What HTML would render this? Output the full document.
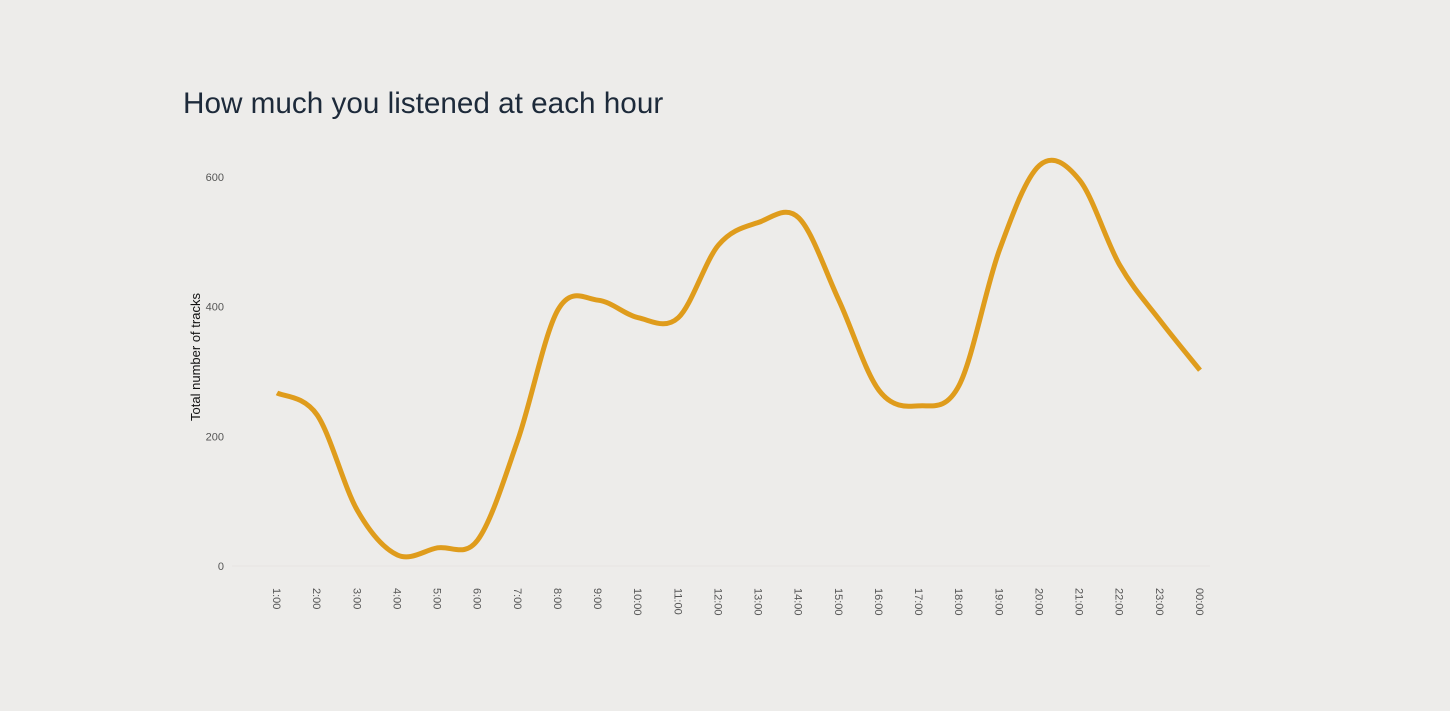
<!DOCTYPE html>
<html><head><meta charset="utf-8"><style>
html,body{margin:0;padding:0;background:#edecea;width:1450px;height:711px;overflow:hidden}
svg{display:block}
</style></head><body>
<svg width="1450" height="711">
<text x="183" y="113" font-family="Liberation Sans, sans-serif" font-size="29.7" fill="#1d2a3a">How much you listened at each hour</text>
<text transform="translate(200,357) rotate(-90)" text-anchor="middle" font-family="Liberation Sans, sans-serif" font-size="13" fill="#111">Total number of tracks</text>
<g id="yaxis"></g>
<g id="xaxis"></g>
<path id="line" fill="none" stroke="#df9c1c" stroke-width="5" stroke-linecap="butt"/>
</svg>
<script>
const hours=["1:00","2:00","3:00","4:00","5:00","6:00","7:00","8:00","9:00","10:00","11:00","12:00","13:00","14:00","15:00","16:00","17:00","18:00","19:00","20:00","21:00","22:00","23:00","00:00"];
const tracks=[267,233,86,17,28,40,194,395,410,383,383,495,530,537,410,271,247,279,487,618,595,464,379,302];
const yTicks=[0,200,400,600];
const NS="http://www.w3.org/2000/svg";
function xs(i){return 277+i*(1200-277)/(hours.length-1);}
function ys(v){return 566-v*(566-177)/600;}
const ya=document.getElementById('yaxis'),xa=document.getElementById('xaxis');
yTicks.forEach(t=>{
  const tx=document.createElementNS(NS,'text');
  tx.setAttribute('x',224);tx.setAttribute('y',ys(t)+4);
  tx.setAttribute('text-anchor','end');tx.setAttribute('font-family','Liberation Sans, sans-serif');
  tx.setAttribute('font-size','11');tx.setAttribute('fill','#555');
  tx.textContent=t;
  
  
  ya.appendChild(tx);
});
const gl=document.createElementNS(NS,'line');
gl.setAttribute('x1',232);gl.setAttribute('x2',1210);gl.setAttribute('y1',566);gl.setAttribute('y2',566);
gl.setAttribute('stroke','#e6e5e2');


ya.appendChild(gl);
hours.forEach((h,i)=>{
  const tx=document.createElementNS(NS,'text');
  tx.setAttribute('transform','translate('+(xs(i)-4)+',588) rotate(90)');
  tx.setAttribute('font-family','Liberation Sans, sans-serif');
  tx.setAttribute('font-size','11');tx.setAttribute('fill','#555');
  tx.textContent=h;
  
  
  xa.appendChild(tx);
});
const P=tracks.map((v,i)=>[xs(i),ys(v)]);
let d='M'+P[0][0]+','+P[0][1];
for(let i=0;i<P.length-1;i++){
  const p0=P[Math.max(0,i-1)],p1=P[i],p2=P[i+1],p3=P[Math.min(P.length-1,i+2)];
  const c1=[p1[0]+(p2[0]-p0[0])/6,p1[1]+(p2[1]-p0[1])/6];
  const c2=[p2[0]-(p3[0]-p1[0])/6,p2[1]-(p3[1]-p1[1])/6];
  d+=' C'+c1[0]+','+c1[1]+' '+c2[0]+','+c2[1]+' '+p2[0]+','+p2[1];
}
document.getElementById('line').setAttribute('d',d);
</script>
</body></html>
